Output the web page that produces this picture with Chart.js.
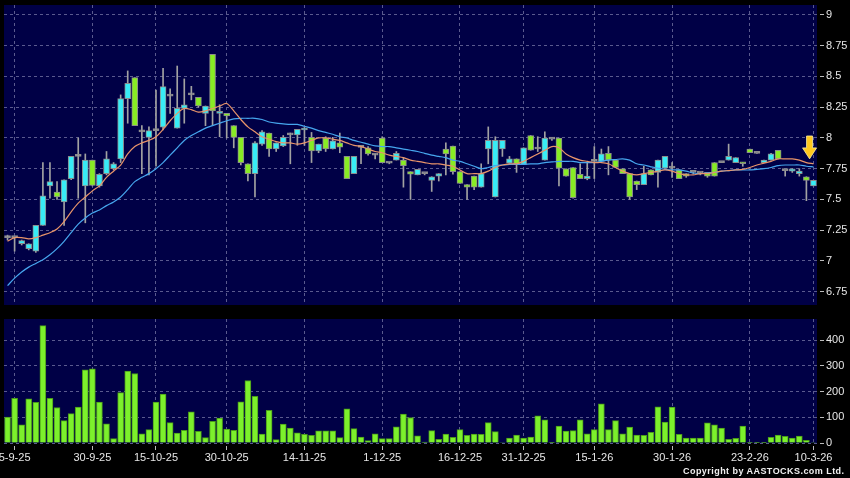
<!DOCTYPE html>
<html>
<head>
<meta charset="utf-8">
<script src="https://cdn.jsdelivr.net/npm/chart.js@4.4.1/dist/chart.umd.min.js"></script>
<style>
  html, body { margin: 0; padding: 0; background: #000; }
  #wrap { position: relative; width: 850px; height: 478px; overflow: hidden; background: #000; }
  #priceBox { position: absolute; left: 0; top: 0; width: 850px; height: 310px; }
  #volBox { position: absolute; left: 0; top: 310px; width: 850px; height: 168px; }
  #copy {
    position: absolute; left: 683px; top: 466px;
    font: bold 9px 'Liberation Sans', Arial, sans-serif; line-height: 11px;
    letter-spacing: 0.45px; color: #f0f0f0; white-space: nowrap;
  }
</style>
</head>
<body>
<div id="wrap">
  <div id="priceBox"><canvas id="priceChart" width="850" height="310"></canvas></div>
  <div id="volBox"><canvas id="volChart" width="850" height="168"></canvas></div>
  <div id="copy">Copyright by AASTOCKS.com Ltd.</div>
</div>
<script>
// === datos (velas diarias) ===
const dateTicks = [1, 12, 21, 31, 42, 53, 64, 73, 83, 94, 105, 114];
const dateText = ['5-9-25', '30-9-25', '15-10-25', '30-10-25', '14-11-25', '1-12-25',
  '16-12-25', '31-12-25', '15-1-26', '30-1-26', '23-2-26', '10-3-26'];

const opens = [
  7.19, 7.19, 7.14, 7.10, 7.08, 7.29, 7.61, 7.56, 7.48, 7.67,
  7.85, 7.61, 7.82, 7.61, 7.71, 7.75, 7.83, 8.32, 8.49, 8.05,
  8.005, 8.06, 8.087, 8.34, 8.08, 8.24, 8.35, 8.33, 8.20, 8.68,
  8.20, 8.20, 8.10, 8.005, 7.79, 7.71, 7.95, 8.04, 7.91, 7.935,
  8.025, 8.025, 8.065, 8.005, 7.895, 8.00, 7.91, 7.96, 7.85, 7.71,
  7.924, 7.92, 7.86, 8.00, 7.795, 7.82, 7.82, 7.726, 7.70, 7.71,
  7.655, 7.69, 7.91, 7.935, 7.726, 7.62, 7.69, 7.60, 7.91, 7.52,
  7.91, 7.795, 7.83, 7.785, 8.02, 7.91, 7.82, 7.99, 8.00, 7.75,
  7.76, 7.705, 7.67, 7.81, 7.81, 7.875, 7.82, 7.75, 7.71, 7.65,
  7.62, 7.74, 7.72, 7.755, 7.755, 7.74, 7.71, 7.72, 7.715, 7.72,
  7.80, 7.80, 7.82, 7.80, 7.80, 7.91, 7.875, 7.80, 7.82, 7.90,
  7.735, 7.73, 7.71, 7.685, 7.61
];
const highs = [
  7.21, 7.19, 7.17, 7.14, 7.29, 7.80, 7.80, 7.645, 7.66, 7.85,
  8.00, 7.87, 7.82, 7.71, 7.89, 7.80, 8.35, 8.545, 8.49, 8.10,
  8.09, 8.39, 8.566, 8.40, 8.585, 8.48, 8.42, 8.33, 8.26, 8.68,
  8.27, 8.20, 8.10, 8.005, 7.79, 7.97, 8.06, 8.04, 7.96, 8.02,
  8.04, 8.07, 8.085, 8.045, 7.95, 8.01, 8.005, 8.04, 7.85, 7.85,
  7.93, 7.93, 7.87, 8.01, 7.80, 7.89, 7.84, 7.726, 7.745, 7.71,
  7.685, 7.71, 7.96, 7.935, 7.726, 7.62, 7.69, 7.79, 8.09, 8.01,
  7.98, 7.85, 7.83, 7.92, 8.02, 8.01, 8.05, 7.99, 8.00, 7.75,
  7.76, 7.79, 7.80, 7.93, 7.91, 7.93, 7.82, 7.75, 7.71, 7.65,
  7.77, 7.74, 7.82, 7.85, 7.80, 7.74, 7.71, 7.72, 7.72, 7.72,
  7.80, 7.80, 7.95, 7.84, 7.80, 7.91, 7.875, 7.82, 7.875, 7.90,
  7.735, 7.75, 7.75, 7.685, 7.655
];
const lows = [
  7.17, 7.08, 7.13, 7.09, 7.07, 7.29, 7.51, 7.50, 7.29, 7.66,
  7.51, 7.31, 7.61, 7.60, 7.70, 7.74, 7.80, 8.12, 8.10, 7.71,
  7.70, 7.77, 8.065, 8.20, 8.08, 8.12, 8.31, 8.25, 8.10, 8.10,
  8.01, 8.00, 7.92, 7.78, 7.65, 7.52, 7.94, 7.85, 7.89, 7.93,
  7.79, 7.94, 7.94, 7.80, 7.88, 7.89, 7.91, 7.88, 7.67, 7.71,
  7.79, 7.86, 7.83, 7.80, 7.79, 7.82, 7.60, 7.50, 7.70, 7.70,
  7.565, 7.65, 7.70, 7.705, 7.63, 7.50, 7.58, 7.60, 7.79, 7.52,
  7.85, 7.795, 7.72, 7.785, 7.90, 7.89, 7.82, 7.98, 7.61, 7.69,
  7.51, 7.67, 7.66, 7.67, 7.81, 7.70, 7.76, 7.71, 7.50, 7.58,
  7.62, 7.70, 7.60, 7.755, 7.68, 7.67, 7.68, 7.71, 7.70, 7.68,
  7.69, 7.80, 7.82, 7.80, 7.77, 7.88, 7.875, 7.80, 7.82, 7.83,
  7.69, 7.72, 7.69, 7.49, 7.61
];
const closes = [
  7.19, 7.19, 7.165, 7.14, 7.29, 7.53, 7.645, 7.52, 7.66, 7.85,
  7.85, 7.82, 7.615, 7.705, 7.83, 7.79, 8.32, 8.445, 8.10, 8.05,
  8.06, 8.06, 8.417, 8.34, 8.24, 8.27, 8.35, 8.26, 8.26, 8.22,
  8.214, 8.18, 8.005, 7.80, 7.71, 7.96, 8.05, 7.91, 7.96, 8.005,
  8.025, 8.07, 8.08, 7.895, 7.95, 7.91, 7.976, 7.925, 7.67, 7.85,
  7.924, 7.87, 7.86, 7.80, 7.795, 7.875, 7.775, 7.705, 7.745, 7.71,
  7.685, 7.71, 7.87, 7.725, 7.63, 7.60, 7.60, 7.71, 7.98, 7.98,
  7.98, 7.83, 7.79, 7.92, 7.90, 7.91, 8.00, 7.99, 7.755, 7.69,
  7.515, 7.67, 7.69, 7.81, 7.87, 7.82, 7.76, 7.71, 7.52, 7.62,
  7.71, 7.70, 7.82, 7.85, 7.755, 7.67, 7.69, 7.72, 7.715, 7.69,
  7.69, 7.80, 7.85, 7.84, 7.79, 7.88, 7.875, 7.82, 7.87, 7.83,
  7.735, 7.75, 7.73, 7.655, 7.655
];

// medias moviles (lineas naranja y azul)
const ma10 = [
  7.16, 7.19, 7.19, 7.18, 7.19, 7.21, 7.23, 7.26, 7.32, 7.40,
  7.47, 7.52, 7.57, 7.61, 7.68, 7.73, 7.78, 7.87, 7.93, 7.96,
  7.98, 8.01, 8.07, 8.14, 8.20, 8.24, 8.23, 8.21, 8.22, 8.24,
  8.26, 8.28, 8.22, 8.15, 8.09, 8.05, 8.01, 7.99, 7.97, 7.96,
  7.96, 7.95, 7.96, 7.98, 8.00, 8.00, 7.99, 7.98, 7.96, 7.94,
  7.93, 7.91, 7.89, 7.88, 7.86, 7.85, 7.84, 7.82, 7.81, 7.80,
  7.79, 7.79, 7.78, 7.77, 7.74, 7.71, 7.71, 7.71, 7.73, 7.76,
  7.78, 7.79, 7.79, 7.81, 7.84, 7.87, 7.90, 7.93, 7.92, 7.87,
  7.84, 7.82, 7.81, 7.80, 7.80, 7.79, 7.76, 7.73, 7.71, 7.70,
  7.71, 7.72, 7.73, 7.74, 7.73, 7.71, 7.70, 7.70, 7.71, 7.71,
  7.72, 7.73, 7.735, 7.74, 7.745, 7.76, 7.78, 7.795, 7.81, 7.83,
  7.83, 7.83, 7.82, 7.80, 7.79
];
const ma20 = [
  6.80, 6.86, 6.91, 6.95, 6.98, 7.01, 7.05, 7.10, 7.16, 7.23,
  7.30, 7.35, 7.39, 7.415, 7.45, 7.48, 7.52, 7.58, 7.645, 7.68,
  7.71, 7.75, 7.80, 7.86, 7.92, 7.98, 8.02, 8.05, 8.08, 8.10,
  8.12, 8.14, 8.155, 8.16, 8.16, 8.16, 8.15, 8.13, 8.12, 8.115,
  8.11, 8.11, 8.095, 8.08, 8.06, 8.045, 8.03, 8.01, 8.00, 7.98,
  7.965, 7.95, 7.935, 7.93, 7.93, 7.92, 7.91, 7.90, 7.89, 7.875,
  7.86, 7.85, 7.84, 7.82, 7.81, 7.79, 7.77, 7.75, 7.76, 7.775,
  7.78, 7.785, 7.785, 7.785, 7.79, 7.79, 7.80, 7.805, 7.81, 7.81,
  7.81, 7.80, 7.80, 7.80, 7.81, 7.82, 7.825, 7.83, 7.82, 7.79,
  7.78, 7.765, 7.755, 7.745, 7.74, 7.74, 7.73, 7.715, 7.71, 7.715,
  7.72, 7.73, 7.735, 7.74, 7.74, 7.74, 7.745, 7.75, 7.76, 7.775,
  7.78, 7.78, 7.78, 7.77, 7.765
];

// volumen (miles)
const volumes = [
  101, 174, 71, 172, 158, 456, 174, 138, 87, 114,
  140, 284, 288, 159, 75, 17, 196, 280, 270, 36,
  52, 159, 190, 79, 39, 49, 121, 45, 21, 84,
  97, 54, 49, 160, 243, 181, 35, 127, 13, 74,
  58, 40, 34, 30, 47, 47, 47, 21, 133, 56,
  23, 9, 36, 17, 17, 63, 112, 99, 28, 4,
  48, 14, 35, 22, 52, 30, 35, 34, 79, 44,
  2, 19, 31, 19, 23, 106, 90, 1, 66, 46,
  48, 90, 36, 52, 152, 52, 87, 36, 62, 31,
  30, 41, 141, 81, 140, 34, 19, 19, 19, 78,
  71, 58, 14, 18, 66, 1, 1, 3, 22, 31,
  26, 19, 27, 10, 2
];

const priceTicks = [6.75, 7, 7.25, 7.5, 7.75, 8, 8.25, 8.5, 8.75, 9];
const volTicks = [0, 100, 200, 300, 400];

// flecha amarilla (posicion en datos)
const arrowAt = 113.45;
const arrowFrom = 8.016;
const arrowTo = 7.83;

// === colores ===
const colores = {
  fondo: '#000046',
  grid: '#5a5a8e',
  texto: '#e6e6e6',
  sube: '#38ecf6',
  baja: '#88ec24',
  doji: '#a0a0a0',
  borde: '#8c8c8c',
  mecha: '#a2a2a2',
  ma10: '#e8946a',
  ma20: '#46a6ee',
  vol: '#7cf02c',
  volBorde: '#4a9a1a',
  flecha: '#ffc81e',
  flechaBorde: '#fff0a0'
};

Chart.defaults.font.family = "'Liberation Sans', Arial, sans-serif";
Chart.defaults.font.size = 11;

const labels = opens.map((_, i) => {
  const k = dateTicks.indexOf(i);
  return k >= 0 ? dateText[k] : '';
});

const bodyColors = opens.map((o, i) =>
  closes[i] > o ? colores.sube : (closes[i] < o ? colores.baja : colores.doji));

// fondo azul del area de dibujo
const plotBg = {
  id: 'plotBg',
  beforeDraw(chart) {
    const { ctx, chartArea: a } = chart;
    ctx.save();
    ctx.fillStyle = colores.fondo;
    ctx.fillRect(a.left, a.top, a.right - a.left, a.bottom - a.top);
    ctx.restore();
  }
};

// flecha hacia abajo al final de la serie
const arrowMark = {
  id: 'arrowMark',
  afterDatasetsDraw(chart) {
    const { ctx, scales } = chart;
    const x = scales.x.getPixelForValue(arrowAt);
    const y0 = scales.y.getPixelForValue(arrowFrom);
    const y1 = scales.y.getPixelForValue(arrowTo);
    const headH = (y1 - y0) * 0.48;
    ctx.save();
    ctx.beginPath();
    ctx.moveTo(x - 3, y0);
    ctx.lineTo(x + 3, y0);
    ctx.lineTo(x + 3, y1 - headH);
    ctx.lineTo(x + 7, y1 - headH);
    ctx.lineTo(x, y1);
    ctx.lineTo(x - 7, y1 - headH);
    ctx.lineTo(x - 3, y1 - headH);
    ctx.closePath();
    ctx.fillStyle = colores.flecha;
    ctx.fill();
    ctx.strokeStyle = colores.flechaBorde;
    ctx.lineWidth = 0.8;
    ctx.stroke();
    ctx.restore();
  }
};

function ejeFechas(conTexto, alto) {
  return {
    type: 'category',
    offset: true,
    afterBuildTicks: axis => { axis.ticks = dateTicks.map(v => ({ value: v })); },
    afterFit: s => { s.height = alto; s.paddingLeft = 0; s.paddingRight = 0; },
    grid: {
      offset: false,
      color: colores.grid,
      lineWidth: 1,
      drawTicks: conTexto,
      tickLength: 7,
      tickColor: '#bbbbbb',
      tickBorderDash: [0, 3, 4, 20]
    },
    border: { display: false, dash: [3, 3] },
    ticks: {
      display: conTexto,
      color: colores.texto,
      padding: 1,
      autoSkip: false,
      maxRotation: 0,
      minRotation: 0
    }
  };
}

function ejeDerecho(min, max, valores) {
  return {
    position: 'right',
    min, max,
    afterBuildTicks: axis => { axis.ticks = valores.map(v => ({ value: v })); },
    afterFit: s => { s.width = 33; s.paddingTop = 0; s.paddingBottom = 0; },
    grid: {
      color: colores.grid,
      lineWidth: 1,
      tickLength: 7,
      tickColor: '#bbbbbb',
      tickBorderDash: [0, 3, 4, 20]
    },
    border: { display: false, dash: [3, 3] },
    ticks: { color: colores.texto, padding: 2, callback: v => String(v) }
  };
}

// === grafico de precios (velas + medias) ===
new Chart(document.getElementById('priceChart'), {
  type: 'bar',
  data: {
    labels,
    datasets: [
      {
        type: 'line', label: 'MA10', data: ma10,
        borderColor: colores.ma10, borderWidth: 1.2, pointRadius: 0, tension: 0.3, order: 1
      },
      {
        type: 'line', label: 'MA20', data: ma20,
        borderColor: colores.ma20, borderWidth: 1.2, pointRadius: 0, tension: 0.3, order: 1
      },
      {
        label: 'cuerpo', data: opens.map((o, i) => [o, closes[i]]),
        backgroundColor: bodyColors, borderColor: colores.borde, borderWidth: 1,
        borderSkipped: false, barThickness: 6, minBarLength: 2, grouped: false, order: 2
      },
      {
        label: 'mecha', data: lows.map((l, i) => [l, highs[i]]),
        backgroundColor: colores.mecha, borderWidth: 0,
        barThickness: 1, grouped: false, order: 3
      }
    ]
  },
  options: {
    responsive: false,
    animation: false,
    events: [],
    layout: { autoPadding: false, padding: { left: 4, top: 5, right: 0, bottom: 0 } },
    plugins: { legend: { display: false }, tooltip: { enabled: false } },
    scales: {
      x: ejeFechas(false, 5),
      y: ejeDerecho(6.642, 9.081, priceTicks)
    }
  },
  plugins: [plotBg, arrowMark]
});

// === grafico de volumen ===
new Chart(document.getElementById('volChart'), {
  type: 'bar',
  data: {
    labels,
    datasets: [{
      label: 'Volumen', data: volumes,
      backgroundColor: colores.vol, borderColor: colores.volBorde, borderWidth: 1,
      barThickness: 6
    }]
  },
  options: {
    responsive: false,
    animation: false,
    events: [],
    layout: { autoPadding: false, padding: { left: 4, top: 9, right: 0, bottom: 0 } },
    plugins: { legend: { display: false }, tooltip: { enabled: false } },
    scales: {
      x: ejeFechas(true, 35),
      y: ejeDerecho(0, 482, volTicks)
    }
  },
  plugins: [plotBg]
});
</script>
</body>
</html>
